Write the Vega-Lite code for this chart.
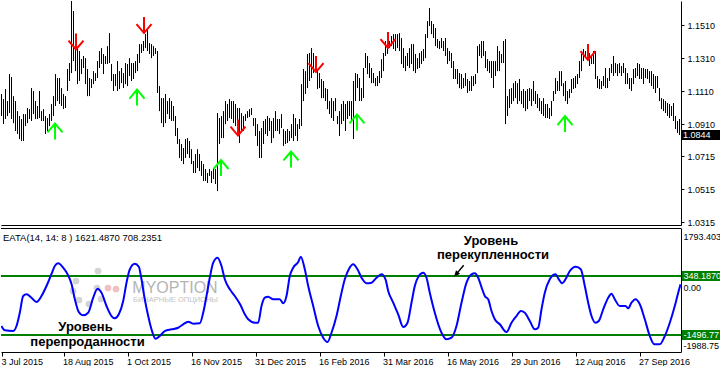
{
"$schema":"https://vega.github.io/schema/vega-lite/v6.json",
"padding":0,
"background":"white",
"spacing":3,
"bounds":"flush",
"config":{"view":{"stroke":null}},
"datasets":{
"bars":[
{"t":0,"h":1.1093,"l":1.0959},{"t":1,"h":1.1062,"l":1.0910},{"t":2,"h":1.1123,"l":1.0941},{"t":3,"h":1.1050,"l":1.0959},{"t":4,"h":1.1214,"l":1.0977},{"t":5,"h":1.1196,"l":1.0941},{"t":6,"h":1.1080,"l":1.0916},{"t":7,"h":1.1050,"l":1.0868},{"t":8,"h":1.0989,"l":1.0850},{"t":9,"h":1.0959,"l":1.0819},
{"t":10,"h":1.0941,"l":1.0807},{"t":11,"h":1.0971,"l":1.0807},{"t":12,"h":1.0971,"l":1.0898},{"t":13,"h":1.1008,"l":1.0916},{"t":14,"h":1.1001,"l":1.0941},{"t":15,"h":1.1129,"l":1.0929},{"t":16,"h":1.1111,"l":1.0971},{"t":17,"h":1.1050,"l":1.0941},{"t":18,"h":1.1020,"l":1.0941},{"t":19,"h":1.1111,"l":1.0947},
{"t":20,"h":1.0989,"l":1.0929},{"t":21,"h":1.1001,"l":1.0929},{"t":22,"h":1.0959,"l":1.0850},{"t":23,"h":1.0947,"l":1.0868},{"t":24,"h":1.0971,"l":1.0898},{"t":25,"h":1.1032,"l":1.0929},{"t":26,"h":1.1080,"l":1.0959},{"t":27,"h":1.1214,"l":1.1020},{"t":28,"h":1.1190,"l":1.1050},{"t":29,"h":1.1190,"l":1.1032},
{"t":30,"h":1.1129,"l":1.1020},{"t":31,"h":1.1093,"l":1.1001},{"t":32,"h":1.1080,"l":1.1008},{"t":33,"h":1.1245,"l":1.1111},{"t":34,"h":1.1281,"l":1.1172},{"t":35,"h":1.1658,"l":1.1220},{"t":36,"h":1.1597,"l":1.1293},{"t":37,"h":1.1457,"l":1.1232},{"t":38,"h":1.1372,"l":1.1153},{"t":39,"h":1.1354,"l":1.1172},
{"t":40,"h":1.1305,"l":1.1214},{"t":41,"h":1.1324,"l":1.1251},{"t":42,"h":1.1311,"l":1.1153},{"t":43,"h":1.1245,"l":1.1080},{"t":44,"h":1.1190,"l":1.1080},{"t":45,"h":1.1184,"l":1.1129},{"t":46,"h":1.1232,"l":1.1153},{"t":47,"h":1.1220,"l":1.1172},{"t":48,"h":1.1293,"l":1.1190},{"t":49,"h":1.1354,"l":1.1251},
{"t":50,"h":1.1372,"l":1.1275},{"t":51,"h":1.1336,"l":1.1214},{"t":52,"h":1.1324,"l":1.1275},{"t":53,"h":1.1384,"l":1.1275},{"t":54,"h":1.1463,"l":1.1281},{"t":55,"h":1.1275,"l":1.1172},{"t":56,"h":1.1214,"l":1.1111},{"t":57,"h":1.1214,"l":1.1141},{"t":58,"h":1.1293,"l":1.1111},{"t":59,"h":1.1232,"l":1.1123},
{"t":60,"h":1.1251,"l":1.1159},{"t":61,"h":1.1220,"l":1.1129},{"t":62,"h":1.1281,"l":1.1153},{"t":63,"h":1.1275,"l":1.1141},{"t":64,"h":1.1311,"l":1.1202},{"t":65,"h":1.1281,"l":1.1172},{"t":66,"h":1.1281,"l":1.1184},{"t":67,"h":1.1293,"l":1.1220},{"t":68,"h":1.1336,"l":1.1232},{"t":69,"h":1.1396,"l":1.1281},
{"t":70,"h":1.1396,"l":1.1342},{"t":71,"h":1.1415,"l":1.1354},{"t":72,"h":1.1457,"l":1.1372},{"t":73,"h":1.1487,"l":1.1354},{"t":74,"h":1.1402,"l":1.1336},{"t":75,"h":1.1396,"l":1.1311},{"t":76,"h":1.1384,"l":1.1324},{"t":77,"h":1.1372,"l":1.1336},{"t":78,"h":1.1354,"l":1.1099},{"t":79,"h":1.1141,"l":1.0989},
{"t":80,"h":1.1068,"l":1.0916},{"t":81,"h":1.1068,"l":1.0892},{"t":82,"h":1.1093,"l":1.0916},{"t":83,"h":1.1050,"l":1.0971},{"t":84,"h":1.1068,"l":1.0941},{"t":85,"h":1.1050,"l":1.0929},{"t":86,"h":1.1020,"l":1.0929},{"t":87,"h":1.0959,"l":1.0838},{"t":88,"h":1.0886,"l":1.0789},{"t":89,"h":1.0819,"l":1.0704},
{"t":90,"h":1.0789,"l":1.0686},{"t":91,"h":1.0765,"l":1.0667},{"t":92,"h":1.0819,"l":1.0704},{"t":93,"h":1.0825,"l":1.0728},{"t":94,"h":1.0807,"l":1.0704},{"t":95,"h":1.0758,"l":1.0667},{"t":96,"h":1.0686,"l":1.0613},{"t":97,"h":1.0728,"l":1.0613},{"t":98,"h":1.0758,"l":1.0643},{"t":99,"h":1.0728,"l":1.0625},
{"t":100,"h":1.0686,"l":1.0595},{"t":101,"h":1.0667,"l":1.0564},{"t":102,"h":1.0637,"l":1.0564},{"t":103,"h":1.0613,"l":1.0552},{"t":104,"h":1.0637,"l":1.0595},{"t":105,"h":1.0625,"l":1.0552},{"t":106,"h":1.0643,"l":1.0576},{"t":107,"h":1.0637,"l":1.0546},{"t":108,"h":1.0977,"l":1.0503},{"t":109,"h":1.0947,"l":1.0789},
{"t":110,"h":1.0959,"l":1.0825},{"t":111,"h":1.0989,"l":1.0825},{"t":112,"h":1.1050,"l":1.0910},{"t":113,"h":1.1032,"l":1.0929},{"t":114,"h":1.1062,"l":1.0947},{"t":115,"h":1.1050,"l":1.0941},{"t":116,"h":1.1050,"l":1.0916},{"t":117,"h":1.1032,"l":1.0898},{"t":118,"h":1.1008,"l":1.0868},{"t":119,"h":1.1008,"l":1.0795},
{"t":120,"h":1.0977,"l":1.0868},{"t":121,"h":1.0959,"l":1.0868},{"t":122,"h":1.0971,"l":1.0929},{"t":123,"h":1.0989,"l":1.0947},{"t":124,"h":1.1001,"l":1.0953},{"t":125,"h":1.1008,"l":1.0965},{"t":126,"h":1.0947,"l":1.0898},{"t":127,"h":1.0947,"l":1.0838},{"t":128,"h":1.0910,"l":1.0777},{"t":129,"h":1.0868,"l":1.0704},
{"t":130,"h":1.0886,"l":1.0704},{"t":131,"h":1.0929,"l":1.0789},{"t":132,"h":1.0941,"l":1.0850},{"t":133,"h":1.0959,"l":1.0838},{"t":134,"h":1.0947,"l":1.0868},{"t":135,"h":1.0929,"l":1.0795},{"t":136,"h":1.0947,"l":1.0825},{"t":137,"h":1.0989,"l":1.0868},{"t":138,"h":1.0941,"l":1.0868},{"t":139,"h":1.0941,"l":1.0850},
{"t":140,"h":1.0971,"l":1.0886},{"t":141,"h":1.0880,"l":1.0777},{"t":142,"h":1.0868,"l":1.0789},{"t":143,"h":1.0880,"l":1.0795},{"t":144,"h":1.0868,"l":1.0807},{"t":145,"h":1.0910,"l":1.0825},{"t":146,"h":1.0971,"l":1.0807},{"t":147,"h":1.0947,"l":1.0838},{"t":148,"h":1.0910,"l":1.0807},{"t":149,"h":1.0941,"l":1.0880},
{"t":150,"h":1.1153,"l":1.0898},{"t":151,"h":1.1245,"l":1.1050},{"t":152,"h":1.1232,"l":1.1093},{"t":153,"h":1.1336,"l":1.1129},{"t":154,"h":1.1342,"l":1.1172},{"t":155,"h":1.1372,"l":1.1190},{"t":156,"h":1.1342,"l":1.1220},{"t":157,"h":1.1324,"l":1.1232},{"t":158,"h":1.1245,"l":1.1123},{"t":159,"h":1.1220,"l":1.1129},
{"t":160,"h":1.1184,"l":1.1068},{"t":161,"h":1.1172,"l":1.1068},{"t":162,"h":1.1129,"l":1.1050},{"t":163,"h":1.1123,"l":1.1001},{"t":164,"h":1.1050,"l":1.0971},{"t":165,"h":1.1068,"l":1.0947},{"t":166,"h":1.1050,"l":1.0929},{"t":167,"h":1.1068,"l":1.0989},{"t":168,"h":1.0959,"l":1.0910},{"t":169,"h":1.0989,"l":1.0838},
{"t":170,"h":1.1032,"l":1.0910},{"t":171,"h":1.1050,"l":1.0929},{"t":172,"h":1.1032,"l":1.0868},{"t":173,"h":1.1050,"l":1.0941},{"t":174,"h":1.1050,"l":1.0959},{"t":175,"h":1.1050,"l":1.0929},{"t":176,"h":1.1172,"l":1.0819},{"t":177,"h":1.1220,"l":1.1050},{"t":178,"h":1.1214,"l":1.1129},{"t":179,"h":1.1190,"l":1.1050},
{"t":180,"h":1.1129,"l":1.1050},{"t":181,"h":1.1251,"l":1.1068},{"t":182,"h":1.1342,"l":1.1251},{"t":183,"h":1.1324,"l":1.1214},{"t":184,"h":1.1281,"l":1.1190},{"t":185,"h":1.1251,"l":1.1159},{"t":186,"h":1.1220,"l":1.1159},{"t":187,"h":1.1190,"l":1.1141},{"t":188,"h":1.1202,"l":1.1141},{"t":189,"h":1.1232,"l":1.1159},
{"t":190,"h":1.1305,"l":1.1190},{"t":191,"h":1.1342,"l":1.1232},{"t":192,"h":1.1415,"l":1.1324},{"t":193,"h":1.1427,"l":1.1336},{"t":194,"h":1.1415,"l":1.1372},{"t":195,"h":1.1445,"l":1.1384},{"t":196,"h":1.1457,"l":1.1366},{"t":197,"h":1.1457,"l":1.1354},{"t":198,"h":1.1457,"l":1.1372},{"t":199,"h":1.1463,"l":1.1354},
{"t":200,"h":1.1433,"l":1.1275},{"t":201,"h":1.1372,"l":1.1251},{"t":202,"h":1.1324,"l":1.1232},{"t":203,"h":1.1342,"l":1.1263},{"t":204,"h":1.1372,"l":1.1251},{"t":205,"h":1.1396,"l":1.1275},{"t":206,"h":1.1396,"l":1.1232},{"t":207,"h":1.1336,"l":1.1220},{"t":208,"h":1.1311,"l":1.1245},{"t":209,"h":1.1342,"l":1.1251},
{"t":210,"h":1.1354,"l":1.1275},{"t":211,"h":1.1366,"l":1.1293},{"t":212,"h":1.1457,"l":1.1311},{"t":213,"h":1.1536,"l":1.1433},{"t":214,"h":1.1615,"l":1.1506},{"t":215,"h":1.1536,"l":1.1457},{"t":216,"h":1.1518,"l":1.1433},{"t":217,"h":1.1494,"l":1.1384},{"t":218,"h":1.1427,"l":1.1372},{"t":219,"h":1.1415,"l":1.1366},
{"t":220,"h":1.1433,"l":1.1372},{"t":221,"h":1.1415,"l":1.1354},{"t":222,"h":1.1433,"l":1.1324},{"t":223,"h":1.1372,"l":1.1275},{"t":224,"h":1.1354,"l":1.1293},{"t":225,"h":1.1342,"l":1.1251},{"t":226,"h":1.1293,"l":1.1184},{"t":227,"h":1.1245,"l":1.1184},{"t":228,"h":1.1245,"l":1.1153},{"t":229,"h":1.1220,"l":1.1129},
{"t":230,"h":1.1214,"l":1.1123},{"t":231,"h":1.1190,"l":1.1129},{"t":232,"h":1.1220,"l":1.1141},{"t":233,"h":1.1184,"l":1.1099},{"t":234,"h":1.1172,"l":1.1111},{"t":235,"h":1.1202,"l":1.1111},{"t":236,"h":1.1202,"l":1.1141},{"t":237,"h":1.1214,"l":1.1153},{"t":238,"h":1.1384,"l":1.1220},{"t":239,"h":1.1396,"l":1.1324},
{"t":240,"h":1.1415,"l":1.1311},{"t":241,"h":1.1415,"l":1.1324},{"t":242,"h":1.1354,"l":1.1251},{"t":243,"h":1.1305,"l":1.1232},{"t":244,"h":1.1293,"l":1.1220},{"t":245,"h":1.1293,"l":1.1190},{"t":246,"h":1.1293,"l":1.1129},{"t":247,"h":1.1293,"l":1.1202},{"t":248,"h":1.1384,"l":1.1232},{"t":249,"h":1.1354,"l":1.1232},
{"t":250,"h":1.1336,"l":1.1281},{"t":251,"h":1.1415,"l":1.1281},{"t":252,"h":1.1427,"l":1.0910},{"t":253,"h":1.1080,"l":1.0959},{"t":254,"h":1.1123,"l":1.1008},{"t":255,"h":1.1129,"l":1.1032},{"t":256,"h":1.1159,"l":1.1050},{"t":257,"h":1.1172,"l":1.1068},{"t":258,"h":1.1159,"l":1.1032},{"t":259,"h":1.1184,"l":1.1050},
{"t":260,"h":1.1111,"l":1.1032},{"t":261,"h":1.1123,"l":1.1008},{"t":262,"h":1.1111,"l":1.0989},{"t":263,"h":1.1123,"l":1.1001},{"t":264,"h":1.1129,"l":1.1050},{"t":265,"h":1.1123,"l":1.1020},{"t":266,"h":1.1172,"l":1.1050},{"t":267,"h":1.1111,"l":1.1032},{"t":268,"h":1.1093,"l":1.1008},{"t":269,"h":1.1068,"l":1.0989},
{"t":270,"h":1.1050,"l":1.0971},{"t":271,"h":1.1068,"l":1.0959},{"t":272,"h":1.1032,"l":1.0947},{"t":273,"h":1.1032,"l":1.0947},{"t":274,"h":1.1008,"l":1.0941},{"t":275,"h":1.1050,"l":1.0959},{"t":276,"h":1.1111,"l":1.1050},{"t":277,"h":1.1190,"l":1.1093},{"t":278,"h":1.1172,"l":1.1111},{"t":279,"h":1.1232,"l":1.1111},
{"t":280,"h":1.1232,"l":1.1141},{"t":281,"h":1.1159,"l":1.1080},{"t":282,"h":1.1172,"l":1.1050},{"t":283,"h":1.1111,"l":1.1032},{"t":284,"h":1.1123,"l":1.1068},{"t":285,"h":1.1184,"l":1.1099},{"t":286,"h":1.1190,"l":1.1123},{"t":287,"h":1.1202,"l":1.1129},{"t":288,"h":1.1214,"l":1.1153},{"t":289,"h":1.1293,"l":1.1190},
{"t":290,"h":1.1336,"l":1.1232},{"t":291,"h":1.1366,"l":1.1293},{"t":292,"h":1.1354,"l":1.1311},{"t":293,"h":1.1384,"l":1.1305},{"t":294,"h":1.1342,"l":1.1263},{"t":295,"h":1.1324,"l":1.1275},{"t":296,"h":1.1354,"l":1.1275},{"t":297,"h":1.1354,"l":1.1184},{"t":298,"h":1.1202,"l":1.1129},{"t":299,"h":1.1184,"l":1.1123},
{"t":300,"h":1.1172,"l":1.1123},{"t":301,"h":1.1202,"l":1.1141},{"t":302,"h":1.1251,"l":1.1129},{"t":303,"h":1.1190,"l":1.1129},{"t":304,"h":1.1251,"l":1.1172},{"t":305,"h":1.1275,"l":1.1220},{"t":306,"h":1.1324,"l":1.1202},{"t":307,"h":1.1281,"l":1.1220},{"t":308,"h":1.1275,"l":1.1202},{"t":309,"h":1.1281,"l":1.1220},
{"t":310,"h":1.1263,"l":1.1202},{"t":311,"h":1.1281,"l":1.1220},{"t":312,"h":1.1251,"l":1.1153},{"t":313,"h":1.1220,"l":1.1153},{"t":314,"h":1.1190,"l":1.1123},{"t":315,"h":1.1190,"l":1.1111},{"t":316,"h":1.1245,"l":1.1153},{"t":317,"h":1.1251,"l":1.1190},{"t":318,"h":1.1281,"l":1.1202},{"t":319,"h":1.1275,"l":1.1184},
{"t":320,"h":1.1251,"l":1.1184},{"t":321,"h":1.1251,"l":1.1153},{"t":322,"h":1.1245,"l":1.1190},{"t":323,"h":1.1245,"l":1.1184},{"t":324,"h":1.1232,"l":1.1159},{"t":325,"h":1.1232,"l":1.1141},{"t":326,"h":1.1214,"l":1.1123},{"t":327,"h":1.1202,"l":1.1099},{"t":328,"h":1.1202,"l":1.1129},{"t":329,"h":1.1129,"l":1.1050},
{"t":330,"h":1.1068,"l":1.1001},{"t":331,"h":1.1062,"l":1.0989},{"t":332,"h":1.1050,"l":1.0977},{"t":333,"h":1.1038,"l":1.0959},{"t":334,"h":1.1032,"l":1.0947},{"t":335,"h":1.1020,"l":1.0959},{"t":336,"h":1.1038,"l":1.0929},{"t":337,"h":1.0959,"l":1.0880},{"t":338,"h":1.0929,"l":1.0856},{"t":339,"h":1.0941,"l":1.0844}
],
"sig":[
{"t":37.25,"p":1.1412,"d":"dn"},{"t":71.25,"p":1.1512,"d":"dn"},{"t":157.25,"p":1.1275,"d":"dn"},{"t":193.25,"p":1.1421,"d":"dn"},{"t":293.25,"p":1.1348,"d":"dn"},{"t":118.25,"p":1.0889,"d":"dn"},
{"t":67.75,"p":1.1071,"d":"up"},{"t":26.75,"p":1.0865,"d":"up"},{"t":109.75,"p":1.0643,"d":"up"},{"t":144.75,"p":1.0695,"d":"up"},{"t":177.75,"p":1.0920,"d":"up"},{"t":281.75,"p":1.0910,"d":"up"}
],
"osc":[
{"t":0,"v":-1216},{"t":1.65,"v":-1351},{"t":5.85,"v":-1373},{"t":7.5,"v":-1216},{"t":9.15,"v":-801},{"t":10.85,"v":-278},{"t":12.5,"v":-225},{"t":15,"v":-331},{"t":17.5,"v":-466},{"t":20,"v":-278},
{"t":22.5,"v":34},{"t":25,"v":410},{"t":26.65,"v":660},{"t":28.35,"v":744},{"t":30.85,"v":607},{"t":33.35,"v":369},{"t":35,"v":97},{"t":36.65,"v":-372},{"t":38.65,"v":-779},{"t":40.85,"v":-882},
{"t":43.35,"v":-801},{"t":45.85,"v":-331},{"t":48,"v":-50},{"t":50,"v":-175},{"t":52.5,"v":-591},{"t":55,"v":-904},{"t":56.65,"v":-976},{"t":58.65,"v":-851},{"t":60.85,"v":-435},{"t":62.5,"v":138},
{"t":64.15,"v":557},{"t":66.65,"v":732},{"t":68.65,"v":638},{"t":70,"v":244},{"t":71.35,"v":-278},{"t":73.35,"v":-904},{"t":75,"v":-1320},{"t":77,"v":-1614},{"t":79.15,"v":-1529},{"t":81.65,"v":-1373},
{"t":85,"v":-1320},{"t":88.35,"v":-1270},{"t":90.85,"v":-1163},{"t":93.35,"v":-1082},{"t":95.85,"v":-1144},{"t":99.15,"v":-1132},{"t":100.85,"v":-801},{"t":102.5,"v":-278},{"t":104.15,"v":294},{"t":105.85,"v":763},
{"t":108,"v":919},{"t":110,"v":660},{"t":111.65,"v":244},{"t":114.15,"v":-69},{"t":116.65,"v":-278},{"t":119.5,"v":-560},{"t":121.65,"v":-851},{"t":123.35,"v":-1007},{"t":126.65,"v":-1113},{"t":128.35,"v":-1113},
{"t":130,"v":-591},{"t":131.65,"v":-331},{"t":133.35,"v":-300},{"t":135.85,"v":-382},{"t":139.15,"v":-382},{"t":140.85,"v":-507},{"t":142.5,"v":-278},{"t":144.15,"v":347},{"t":145.85,"v":607},{"t":148.35,"v":785},
{"t":149.65,"v":951},{"t":151.65,"v":557},{"t":153.35,"v":34},{"t":155.85,"v":-591},{"t":158.35,"v":-1216},{"t":160.85,"v":-1582},{"t":163,"v":-1717},{"t":165,"v":-1426},{"t":167.5,"v":-904},{"t":169.65,"v":-278},
{"t":171.65,"v":244},{"t":173.65,"v":557},{"t":175.85,"v":713},{"t":178,"v":557},{"t":180,"v":294},{"t":182.5,"v":119},{"t":185,"v":138},{"t":187.5,"v":294},{"t":190,"v":400},{"t":192,"v":244},
{"t":193.35,"v":-122},{"t":195.85,"v":-488},{"t":198.35,"v":-851},{"t":200.85,"v":-1248},{"t":203,"v":-1113},{"t":205,"v":-488},{"t":206.65,"v":34},{"t":208.65,"v":347},{"t":210.85,"v":450},{"t":212.5,"v":294},
{"t":214.15,"v":-175},{"t":216.65,"v":-801},{"t":220,"v":-1426},{"t":222.5,"v":-1632},{"t":225,"v":-1582},{"t":227.5,"v":-1216},{"t":230,"v":-488},{"t":232.5,"v":138},{"t":235,"v":400},{"t":236.65,"v":432},
{"t":238.35,"v":294},{"t":240,"v":0},{"t":241.65,"v":-278},{"t":243.35,"v":-382},{"t":245,"v":-747},{"t":246.65,"v":-1007},{"t":249.15,"v":-1163},{"t":252.5,"v":-1404},{"t":255,"v":-1113},{"t":257.5,"v":-904},
{"t":259.65,"v":-747},{"t":261.65,"v":-801},{"t":264.15,"v":-1060},{"t":266.65,"v":-1320},{"t":268.35,"v":-1270},{"t":270,"v":-694},{"t":271.65,"v":-175},{"t":274.15,"v":244},{"t":277,"v":400},{"t":278.65,"v":244},
{"t":280.35,"v":119},{"t":282,"v":244},{"t":284.15,"v":503},{"t":287.15,"v":638},{"t":289.65,"v":557},{"t":291.65,"v":34},{"t":293.35,"v":-488},{"t":295,"v":-904},{"t":297,"v":-1113},{"t":298.65,"v":-1060},
{"t":300.85,"v":-694},{"t":303.35,"v":-331},{"t":305,"v":-206},{"t":306.65,"v":-382},{"t":309.15,"v":-591},{"t":312,"v":-591},{"t":313.35,"v":-663},{"t":315,"v":-488},{"t":317,"v":-382},{"t":319.15,"v":-538},
{"t":321.65,"v":-1007},{"t":324.15,"v":-1529},{"t":326.35,"v":-1789},{"t":329.15,"v":-1789},{"t":331.65,"v":-1529},{"t":334.15,"v":-1113},{"t":336.65,"v":-591},{"t":338.35,"v":-175},{"t":339.5,"v":88}
],
"lvl":[{"v":348.187,"s":"348.1870"},{"v":-1496.77,"s":"-1496.77"}],
"last":[{"p":1.0844,"s":"1.0844"}]
},
"vconcat":[
{
"width":680,"height":224,
"layer":[
{"data":{"name":"bars"},"mark":{"type":"rule","color":"#000000","strokeWidth":1},
"encoding":{
"x":{"field":"t","type":"quantitative","scale":{"domain":[-0.25,339.75],"nice":false,"zero":false},"axis":{"orient":"bottom","labels":false,"ticks":false,"grid":false,"domainColor":"#000000","title":null}},
"y":{"field":"h","type":"quantitative","scale":{"domain":[1.0297,1.1658],"nice":false,"zero":false},"axis":{"orient":"right","values":[1.151,1.131,1.111,1.091,1.0715,1.0515,1.0315],"tickCount":12,"format":".4f","labelOverlap":false,"labelBound":false,"grid":false,"tickSize":3,"labelPadding":3,"tickColor":"#000000","domainColor":"#000000","labelColor":"#000000","labelFont":"Liberation Sans","labelFontSize":9,"title":null}},
"y2":{"field":"l"}}},
{"data":{"name":"sig"},"mark":{"type":"point","filled":false,"strokeWidth":2,"size":256,"opacity":1},
"encoding":{
"x":{"field":"t","type":"quantitative","title":null},
"y":{"field":"p","type":"quantitative","title":null},
"shape":{"field":"d","type":"nominal","scale":{"domain":["dn","up"],"range":["M0,-1L0,1M-0.94,-0.12L0,1L0.94,-0.12","M0,1L0,-1M-0.94,0.12L0,-1L0.94,0.12"]},"legend":null},
"stroke":{"field":"d","type":"nominal","scale":{"domain":["dn","up"],"range":["#ff0000","#00ff00"]},"legend":null}}},
{"data":{"name":"last"},"mark":{"type":"tick","orient":"horizontal","size":39,"thickness":10,"color":"#000000","opacity":1},
"encoding":{"x":{"datum":350},"y":{"field":"p","type":"quantitative","title":null}}},
{"data":{"name":"last"},"mark":{"type":"text","align":"left","baseline":"middle","color":"#ffffff","font":"Liberation Sans","fontSize":9},
"encoding":{"x":{"datum":340.75},"y":{"field":"p","type":"quantitative","title":null},"text":{"field":"s"}}}
]
},
{
"width":680,"height":124,
"layer":[
{"data":{"values":[{"t":48.25,"v":503,"c":"g"},{"t":47.75,"v":-28,"c":"g"},{"t":53.25,"v":-28,"c":"p"},{"t":57.25,"v":-59,"c":"p"},{"t":49.75,"v":-372,"c":"g"},{"t":37.25,"v":191,"c":"g"},{"t":35.75,"v":-122,"c":"g"},{"t":38.75,"v":-403,"c":"g"},{"t":43.75,"v":-528,"c":"g"}]},
"mark":{"type":"circle","size":45,"opacity":1},
"encoding":{
"x":{"field":"t","type":"quantitative","scale":{"domain":[-0.25,339.75],"nice":false,"zero":false},"axis":{"orient":"bottom","values":[0.25,31,63,95,127,159,191,223,255,287,319],"tickCount":20,"labelExpr":"datum.value < 1 ? '3 Jul 2015' : datum.value < 32 ? '18 Aug 2015' : datum.value < 64 ? '1 Oct 2015' : datum.value < 96 ? '16 Nov 2015' : datum.value < 128 ? '31 Dec 2015' : datum.value < 160 ? '16 Feb 2016' : datum.value < 192 ? '31 Mar 2016' : datum.value < 224 ? '16 May 2016' : datum.value < 256 ? '29 Jun 2016' : datum.value < 288 ? '12 Aug 2016' : '27 Sep 2016'","labelAlign":"left","labelFlush":false,"labelOverlap":false,"labelBound":false,"labelOffset":-1,"tickSize":4,"labelPadding":1,"tickColor":"#000000","domainColor":"#000000","labelColor":"#000000","labelFont":"Liberation Sans","labelFontSize":9,"grid":false,"title":null}},
"y":{"field":"v","type":"quantitative","scale":{"domain":[-2029,1848],"nice":false,"zero":false},"axis":{"orient":"right","values":[1589,0,-1826],"tickCount":5,"labelExpr":"datum.value > 1000 ? '1793.403' : datum.value < -1000 ? '-1988.75' : '0.00'","labelOverlap":false,"labelBound":false,"ticks":false,"labelPadding":2,"domainColor":"#000000","labelColor":"#000000","labelFont":"Liberation Sans","labelFontSize":9,"grid":false,"title":null}},
"color":{"field":"c","type":"nominal","scale":{"domain":["g","p"],"range":["#d4d4d4","#f2c0c0"]},"legend":null}}},
{"data":{"values":[{"s":"MYOPTION"}]},"mark":{"type":"text","align":"center","baseline":"middle","color":"#b4b4b4","font":"Liberation Sans","fontSize":16},
"encoding":{"x":{"datum":86.75},"y":{"datum":-13},"text":{"field":"s"}}},
{"data":{"values":[{"s":"БИНАРНЫЕ ОПЦИОНЫ"}]},"mark":{"type":"text","align":"center","baseline":"middle","color":"#c4c4c4","font":"Liberation Sans","fontSize":7.5},
"encoding":{"x":{"datum":87},"y":{"datum":-403},"text":{"field":"s"}}},
{"data":{"values":[{"s":"EATA(14, 14: 8 ) 1621.4870 708.2351"}]},"mark":{"type":"text","align":"left","baseline":"middle","color":"#000000","font":"Liberation Sans","fontSize":9.5},
"encoding":{"x":{"datum":0.75},"y":{"datum":1545},"text":{"field":"s"}}},
{"data":{"name":"lvl"},"mark":{"type":"rule","color":"#008000","strokeWidth":2},
"encoding":{"y":{"field":"v","type":"quantitative","title":null}}},
{"data":{"name":"osc"},"mark":{"type":"line","color":"#0000ff","strokeWidth":2,"interpolate":"monotone","clip":true},
"encoding":{"x":{"field":"t","type":"quantitative","title":null},"y":{"field":"v","type":"quantitative","title":null}}},
{"data":{"values":[{"s":"Уровень","t":244.75,"v":1442},{"s":"перекупленности","t":245.75,"v":994},{"s":"Уровень","t":42,"v":-1248},{"s":"перепроданности","t":43,"v":-1717}]},
"mark":{"type":"text","align":"center","baseline":"middle","color":"#000000","font":"Liberation Sans","fontSize":13,"fontWeight":"bold"},
"encoding":{"x":{"field":"t","type":"quantitative","title":null},"y":{"field":"v","type":"quantitative","title":null},"text":{"field":"s"}}},
{"data":{"values":[{"k":"a"}]},"mark":{"type":"point","shape":"M0.84,-1L-0.39,0.46M-0.84,1L-0.16,0.66L-0.62,0.27Z","size":100,"filled":true,"color":"#000000","stroke":"#000000","strokeWidth":1.5,"opacity":1},
"encoding":{"x":{"datum":229},"y":{"datum":525}}},
{"data":{"name":"lvl"},"mark":{"type":"tick","orient":"horizontal","size":39,"thickness":10,"color":"#008000","opacity":1},
"encoding":{"x":{"datum":350},"y":{"field":"v","type":"quantitative","title":null}}},
{"data":{"name":"lvl"},"mark":{"type":"text","align":"left","baseline":"middle","color":"#ffffff","font":"Liberation Sans","fontSize":9},
"encoding":{"x":{"datum":341},"y":{"field":"v","type":"quantitative","title":null},"text":{"field":"s"}}},
{"data":{"values":[{"k":"b"}]},"mark":{"type":"rule","color":"#000000","strokeWidth":1},
"encoding":{"y":{"datum":1832}}}
]
}
]
}
